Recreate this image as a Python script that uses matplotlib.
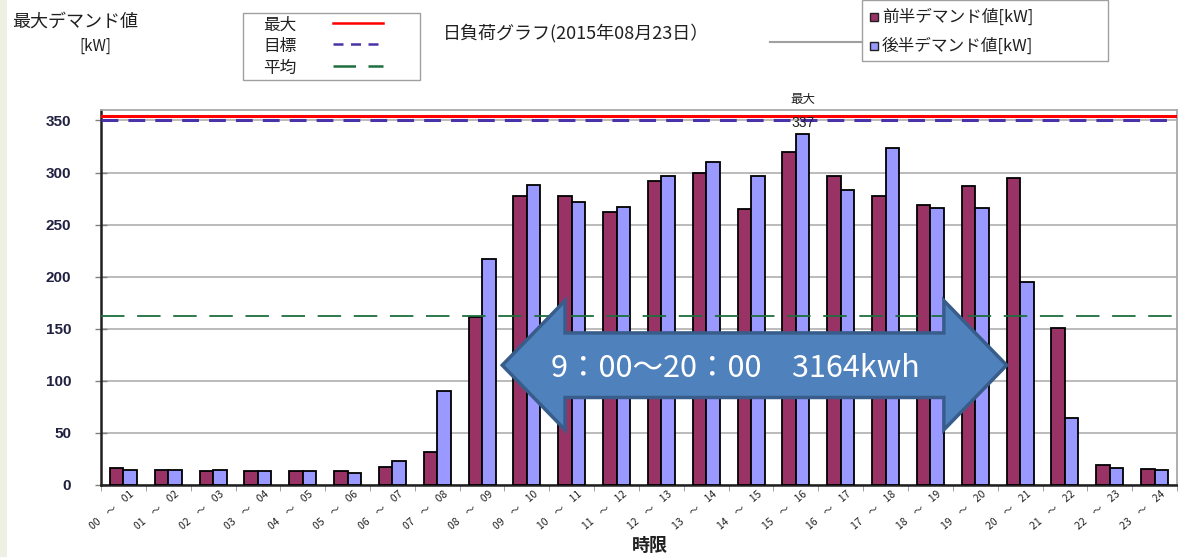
import numpy as np
import matplotlib
matplotlib.use("Agg")
import matplotlib.pyplot as plt
from matplotlib.patches import Rectangle, Polygon
from matplotlib.lines import Line2D
import matplotlib.transforms as mtransforms

plt.rcParams['font.family'] = ['Noto Sans CJK JP', 'DejaVu Sans']

# ---------------- data ----------------
slots = ["00", "01", "02", "03", "04", "05", "06", "07", "08", "09", "10", "11",
         "12", "13", "14", "15", "16", "17", "18", "19", "20", "21", "22", "23", "24"]
tick_labels = [f"{slots[i]}　～　{slots[i+1]}" for i in range(24)]
first_half = [16, 14, 13, 13, 13, 13, 17, 32, 161, 277, 277, 262,
              292, 300, 265, 320, 297, 277, 269, 287, 295, 151, 19, 15]
second_half = [14, 14, 14, 13, 13, 12, 23, 90, 217, 288, 272, 267,
               297, 310, 297, 337, 283, 324, 266, 266, 195, 64, 16, 14]
max_line = 354
target_line = 350
avg_line = float(np.mean(first_half + second_half))
peak_value = max(second_half)
arrow_start, arrow_end = 9, 20
arrow_text = "9：00～20：00　3164kwh"
yticks = [0, 50, 100, 150, 200, 250, 300, 350]

W, H = 1178, 557
fig = plt.figure(figsize=(W / 100, H / 100), dpi=100)
fig.patch.set_facecolor("white")

def fx(px):
    return px / W

def fy(py):
    return 1 - py / H

# left light stripe
fig.patches.append(Rectangle((0, 0), fx(7), 1, transform=fig.transFigure,
                             facecolor="#EDF0E2", edgecolor="none", zorder=0))

ax = fig.add_axes([fx(101), fy(485), fx(1177) - fx(101), fy(110) - fy(485)])
ax.set_xlim(0, 24)
ax.set_ylim(0, 360)

x = np.arange(24) + 0.5
bw = 0.3
ax.bar(x - bw / 2, first_half, width=bw, color="#993366", edgecolor="black",
       linewidth=1.3, zorder=3)
ax.bar(x + bw / 2, second_half, width=bw, color="#9999FF", edgecolor="black",
       linewidth=1.3, zorder=3)

# reference lines
ax.axhline(max_line, color="#FF0000", lw=2.2, zorder=4)
ax.axhline(target_line, color="#4A32A8", lw=2.2, dashes=(5.5, 3.3), zorder=4)
ax.axhline(avg_line, color="#1E6E3E", lw=1.3, dashes=(13, 7), zorder=4)

# grid / spines
ax.set_yticks(yticks)
ax.yaxis.grid(True, color="#A8A8A8", lw=1.1, zorder=0)
ax.set_axisbelow(True)
for s in ["top", "right"]:
    ax.spines[s].set_color("#A8A8A8")
    ax.spines[s].set_linewidth(1.3)
for s in ["left", "bottom"]:
    ax.spines[s].set_color("#202020")
    ax.spines[s].set_linewidth(1.8)

ax.tick_params(axis="y", direction="inout", length=9, width=1.0, color="#808080",
               pad=17, labelsize=11, labelcolor="#202040")
for lab in ax.get_yticklabels():
    lab.set_fontweight("bold")
    lab.set_family(["Liberation Sans", "DejaVu Sans"])

ax.set_xticks(x)
ax.set_xticklabels(tick_labels, rotation=40, ha="right", va="top",
                   rotation_mode="anchor", fontsize=7.5, color="#202020")
ax.tick_params(axis="x", length=0, pad=3)
offset = mtransforms.ScaledTranslation(6 / 100, 0, fig.dpi_scale_trans)
for lab in ax.get_xticklabels():
    lab.set_transform(lab.get_transform() + offset)
ax.set_xticks(np.arange(25), minor=True)
ax.tick_params(axis="x", which="minor", direction="out", length=4, color="#909090")

# max label and peak value
blend = mtransforms.blended_transform_factory(ax.transData, ax.transAxes)
peak_idx = int(np.argmax(second_half))
ax.text(peak_idx + 0.5 + bw / 2, 1.012, "最大", transform=blend, ha="center",
        va="bottom", fontsize=9, color="#202020")
ax.text(peak_idx + 0.5 + bw / 2, target_line - 2, str(peak_value), ha="center",
        va="center", fontsize=10, color="#202020", zorder=8,
        family=["Liberation Sans", "DejaVu Sans"])

# double-headed block arrow
yc, sh, hh = 115, 31, 62
hl = 1.4
pts = [(arrow_start - 0.05, yc), (arrow_start - 0.05 + hl, yc + hh),
       (arrow_start - 0.05 + hl, yc + sh), (arrow_end + 0.2 - hl, yc + sh),
       (arrow_end + 0.2 - hl, yc + hh), (arrow_end + 0.2, yc),
       (arrow_end + 0.2 - hl, yc - hh), (arrow_end + 0.2 - hl, yc - sh),
       (arrow_start - 0.05 + hl, yc - sh), (arrow_start - 0.05 + hl, yc - hh)]
ax.add_patch(Polygon(pts, closed=True, facecolor="#4F81BD", edgecolor="#385D8A",
                     lw=2.5, zorder=6))
ax.text((arrow_start + arrow_end) / 2 - 0.35, yc - 3, arrow_text, ha="center",
        va="center", fontsize=22, color="white", zorder=7)

# axis labels / titles
fig.text(fx(12), fy(22), "最大デマンド値", fontsize=13, ha="left", va="center",
         color="#202020")
fig.text(fx(95), fy(46), "[kW]", fontsize=11, ha="center", va="center",
         color="#202020")
fig.text(fx(650), fy(545), "時限", fontsize=13, ha="center", va="center",
         color="#202020", fontweight="bold")
fig.text(fx(443), fy(33), "日負荷グラフ(2015年08月23日）", fontsize=13,
         ha="left", va="center", color="#202020")
fig.lines.append(Line2D([fx(770), fx(862)], [fy(42), fy(42)], transform=fig.transFigure,
                        color="#A0A0A0", lw=1.5))

# left legend box (reference lines)
fig.patches.append(Rectangle((fx(243), fy(80)), fx(420) - fx(243), fy(13) - fy(80),
                             transform=fig.transFigure, facecolor="white",
                             edgecolor="#A0A0A0", lw=1.0))
leg_items = [("最大", "#FF0000", None, 25), ("目標", "#4A32A8", (4, 3), 46),
             ("平均", "#1E6E3E", (9, 5), 68)]
for name, col, dash, py in leg_items:
    fig.text(fx(263), fy(py), name, fontsize=12, ha="left", va="center",
             color="#202020")
    ln = Line2D([fx(333), fx(383)], [fy(py - 2), fy(py - 2)], transform=fig.transFigure,
                color=col, lw=1.8)
    if dash:
        ln.set_dashes(dash)
    fig.lines.append(ln)

# right legend box (bars)
fig.patches.append(Rectangle((fx(862), fy(61)), fx(1108) - fx(862), fy(0) - fy(61),
                             transform=fig.transFigure, facecolor="white",
                             edgecolor="#A0A0A0", lw=1.0))
for name, col, py in [("前半デマンド値[kW]", "#993366", 17),
                      ("後半デマンド値[kW]", "#9999FF", 46)]:
    fig.patches.append(Rectangle((fx(870), fy(py + 4)), fx(8), 8 / H,
                                 transform=fig.transFigure, facecolor=col,
                                 edgecolor="#202020", lw=1.0))
    fig.text(fx(882), fy(py), name, fontsize=12, ha="left", va="center",
             color="#202020")

fig.savefig("out.png", dpi=100)
